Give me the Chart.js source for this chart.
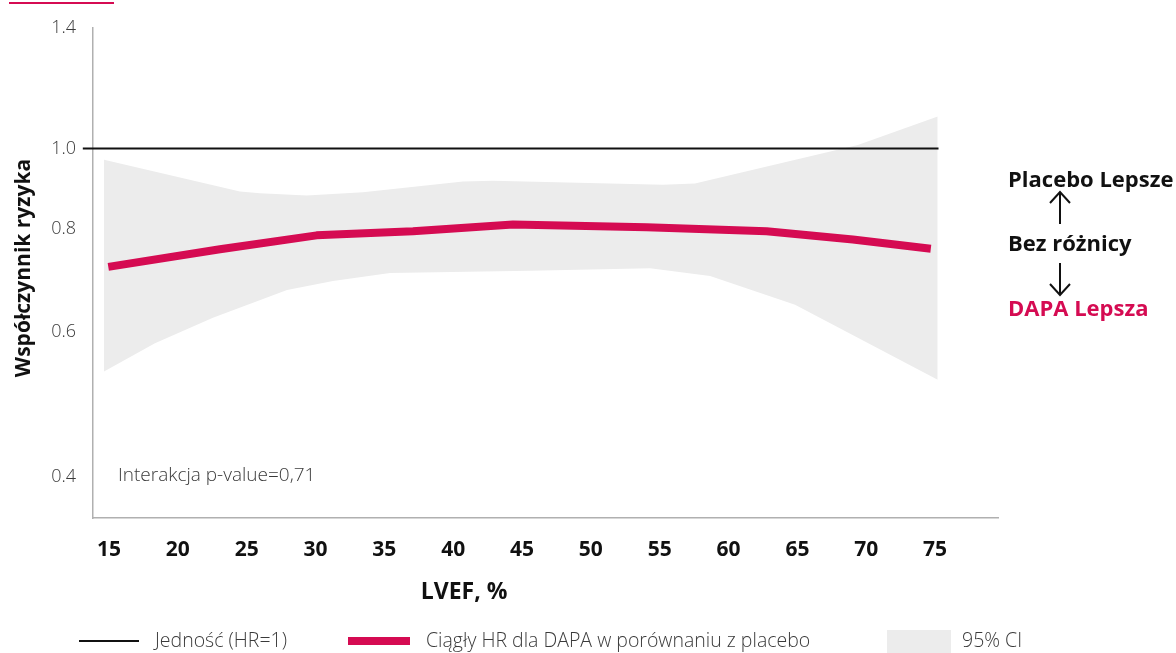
<!DOCTYPE html>
<html lang="pl">
<head>
<meta charset="utf-8">
<script src="https://cdn.jsdelivr.net/npm/chart.js@4.4.1/dist/chart.umd.min.js"></script>
<style>
  html, body { margin: 0; padding: 0; background: #fff; }
  #wrap { width: 1176px; height: 653px; position: relative; }
</style>
</head>
<body>
<div id="wrap"><canvas id="c" width="1176" height="653"></canvas></div>
<script>
// LVEF axis ticks (%) and hazard-ratio ticks
const lvefTicks = [15, 20, 25, 30, 35, 40, 45, 50, 55, 60, 65, 70, 75];
const hrTicks = [0.4, 0.6, 0.8, 1.0, 1.4];

// Continuous HR for DAPA vs placebo across LVEF
const hrLvef = [14.95, 23.06, 30.08, 37.08, 44.34, 54.05, 62.76, 69.03, 74.69];
const hrValue = [0.719, 0.755, 0.785, 0.794, 0.809, 0.803, 0.794, 0.776, 0.756];

// 95% CI, upper bound
const ciUpperLvef = [14.64, 24.51, 25.97, 29.36, 33.45, 40.71, 42.89, 55.23, 57.56, 69.39, 75.19];
const ciUpperValue = [0.969, 0.887, 0.883, 0.877, 0.885, 0.912, 0.914, 0.904, 0.907, 1.010, 1.093];

// 95% CI, lower bound
const ciLowerLvef = [14.64, 18.34, 22.55, 27.93, 31.27, 35.41, 45.58, 54.30, 58.66, 64.83, 75.19];
const ciLowerValue = [0.537, 0.581, 0.624, 0.674, 0.691, 0.707, 0.711, 0.716, 0.701, 0.647, 0.525];

// Unity reference line (HR = 1)
const unityLvef = [13.1, 75.25];
const unityValue = [1.0, 1.0];

const RED = '#d50b52';
const BAND = '#ececec';
const AXIS = '#b0b0b0';
const TXT = '#3a3a3a';
const FONT = '"Open Sans", "Noto Sans", sans-serif';

const pts = (xs, ys) => xs.map((x, i) => ({ x, y: ys[i] }));

const decor = {
  id: 'decor',
  beforeDraw(chart) {
    const ctx = chart.ctx;
    ctx.save();
    ctx.fillStyle = '#fff';
    ctx.fillRect(0, 0, chart.width, chart.height);
    ctx.restore();
  },
  afterDraw(chart) {
    const { ctx, chartArea: a, scales: { y } } = chart;
    ctx.save();

    // red rule at the top edge
    ctx.strokeStyle = RED;
    ctx.lineWidth = 2;
    ctx.beginPath();
    ctx.moveTo(9, 3);
    ctx.lineTo(114, 3);
    ctx.stroke();

    // y-axis title
    ctx.fillStyle = '#111';
    ctx.font = `700 21px ${FONT}`;
    ctx.textAlign = 'center';
    ctx.textBaseline = 'middle';
    ctx.save();
    ctx.translate(24, 268);
    ctx.rotate(-Math.PI / 2);
    ctx.fillText('Współczynnik ryzyka', 0, 0);
    ctx.restore();

    // x-axis title
    ctx.font = `700 23px ${FONT}`;
    ctx.fillText('LVEF, %', a.left + (a.right - a.left) * 0.41, a.bottom + 74);

    // interaction note
    ctx.font = `300 19px ${FONT}`;
    ctx.fillStyle = TXT;
    ctx.textAlign = 'left';
    ctx.fillText('Interakcja p-value=0,71', a.left + 25, y.getPixelForValue(0.4) - 2);

    // direction annotation on the right
    const rx = a.right + 10;
    ctx.font = `700 22px ${FONT}`;
    ctx.fillStyle = '#111';
    ctx.fillText('Placebo Lepsze', rx, 181);
    ctx.fillText('Bez różnicy', rx, 245);
    ctx.fillStyle = RED;
    ctx.fillText('DAPA Lepsza', rx, 310);

    const ax = rx + 52;
    ctx.strokeStyle = '#111';
    ctx.lineWidth = 2;
    ctx.lineCap = 'butt';
    ctx.beginPath();
    ctx.moveTo(ax, 224); ctx.lineTo(ax, 192);
    ctx.moveTo(ax - 10, 203); ctx.lineTo(ax, 192); ctx.lineTo(ax + 10, 203);
    ctx.moveTo(ax, 263); ctx.lineTo(ax, 295);
    ctx.moveTo(ax - 10, 284); ctx.lineTo(ax, 295); ctx.lineTo(ax + 10, 284);
    ctx.stroke();

    // legend
    const ly = 641;
    ctx.font = `300 19.5px ${FONT}`;
    ctx.fillStyle = TXT;
    ctx.textAlign = 'left';
    ctx.textBaseline = 'middle';

    ctx.strokeStyle = '#111';
    ctx.lineWidth = 2;
    ctx.beginPath();
    ctx.moveTo(79, ly); ctx.lineTo(139, ly);
    ctx.stroke();
    ctx.fillText('Jedność (HR=1)', 155, ly);

    ctx.fillStyle = RED;
    ctx.fillRect(348, ly - 4, 62, 8);
    ctx.fillStyle = TXT;
    ctx.fillText('Ciągły HR dla DAPA w porównaniu z placebo', 426, ly);

    ctx.fillStyle = BAND;
    ctx.fillRect(887, ly - 11, 64, 23);
    ctx.fillStyle = TXT;
    ctx.fillText('95% CI', 962, ly);

    ctx.restore();
  }
};

new Chart(document.getElementById('c'), {
  type: 'line',
  data: {
    datasets: [
      {
        label: 'Ciągły HR dla DAPA w porównaniu z placebo',
        data: pts(hrLvef, hrValue),
        borderColor: RED,
        borderWidth: 8,
        borderCapStyle: 'butt',
        borderJoinStyle: 'round',
        pointRadius: 0,
        fill: false,
        tension: 0,
        order: 0
      },
      {
        label: 'Jedność (HR=1)',
        data: pts(unityLvef, unityValue),
        borderColor: '#111',
        borderWidth: 2,
        pointRadius: 0,
        fill: false,
        clip: false,
        order: 1
      },
      {
        label: '95% CI',
        data: pts(ciUpperLvef, ciUpperValue),
        borderWidth: 0,
        borderColor: 'rgba(0,0,0,0)',
        backgroundColor: BAND,
        pointRadius: 0,
        fill: '+1',
        tension: 0,
        order: 2
      },
      {
        label: '95% CI dolny',
        data: pts(ciLowerLvef, ciLowerValue),
        borderWidth: 0,
        borderColor: 'rgba(0,0,0,0)',
        pointRadius: 0,
        fill: false,
        tension: 0,
        order: 3
      }
    ]
  },
  options: {
    responsive: false,
    animation: false,
    events: [],
    layout: { padding: { top: 22, right: 178, bottom: 0, left: 0 } },
    plugins: {
      legend: { display: false },
      tooltip: { enabled: false },
      filler: { drawTime: 'beforeDatasetsDraw' }
    },
    scales: {
      x: {
        type: 'linear',
        min: 13.84,
        max: 79.57,
        afterFit(scale) { scale.height = 135; },
        afterBuildTicks(scale) { scale.ticks = lvefTicks.map(v => ({ value: v })); },
        grid: { display: false, drawTicks: false },
        border: { display: true, color: AXIS, width: 1.5 },
        ticks: {
          padding: 19,
          color: '#111',
          font: { family: FONT, size: 21, weight: '700' },
          callback: v => String(v)
        }
      },
      y: {
        type: 'logarithmic',
        min: 0.357,
        max: 1.4,
        afterFit(scale) { scale.width = 93; },
        afterBuildTicks(scale) { scale.ticks = hrTicks.map(v => ({ value: v })); },
        grid: { display: false, drawTicks: false },
        border: { display: true, color: AXIS, width: 1.5 },
        ticks: {
          padding: 17,
          color: TXT,
          font: { family: FONT, size: 18, weight: '300' },
          callback: v => Number(v).toFixed(1)
        }
      }
    }
  },
  plugins: [decor]
});
</script>
</body>
</html>
